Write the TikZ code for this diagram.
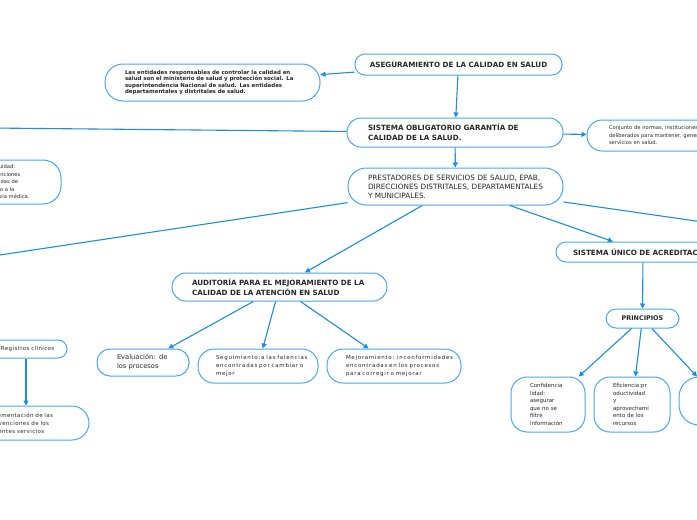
\documentclass[tikz,border=0pt]{standalone}
\usepackage{fontspec}
\setmainfont{DejaVu Sans}
\newfontfamily\spacedA[LetterSpace=13]{DejaVu Sans}
\newfontfamily\spacedB[LetterSpace=7]{DejaVu Sans}
\usetikzlibrary{arrows.meta}
\definecolor{bord}{RGB}{72,168,236}
\definecolor{arr}{RGB}{28,142,220}
\definecolor{txt}{RGB}{40,40,40}
\newcommand{\lb}[1]{\mbox{#1}}
\tikzset{
  box/.style={draw=bord, line width=1pt, fill=white, rounded corners=#1, inner sep=0pt, align=left, text=txt},
  box/.default=10pt,
  conn/.style={draw=arr, line width=1.1pt, -{Triangle[length=5pt,width=5pt]}},
  bigb/.style={font=\fontsize{7.2}{10}\selectfont\bfseries},
  midb/.style={font=\fontsize{6.4}{8}\selectfont\bfseries},
  bigr/.style={font=\fontsize{7.3}{9}\selectfont},
  evr/.style={font=\fontsize{6.7}{9}\selectfont},
  smr/.style={font=\fontsize{5.2}{7.5}\selectfont},
  sms/.style={font=\spacedA\fontsize{5.5}{8}\selectfont},
  smt/.style={font=\spacedB\fontsize{5.5}{8}\selectfont},
  smc/.style={font=\fontsize{5.5}{7.6}\selectfont},
  tinyb/.style={font=\fontsize{5.45}{6.5}\selectfont\bfseries},
}
\begin{document}
\begin{tikzpicture}[x=1pt,y=-1pt]
\useasboundingbox (0,0) rectangle (697,520);
\clip (0,0) rectangle (697,520);
\fill[white] (0,0) rectangle (697,520);

\node[box, bigb, align=center, minimum width=207pt, minimum height=21pt] (aseg) at (458.5,64.5) {ASEGURAMIENTO DE LA CALIDAD EN SALUD};
\node[box=18pt, tinyb, minimum width=215pt, minimum height=37pt, text width=175pt] (ent) at (212.5,82.5)
  {\lb{Las entidades responsables de controlar la calidad en}\\\lb{salud son el ministerio de salud y protección social. La}\\\lb{superintendencia Nacional de salud. Las entidades}\\\lb{departamentales y distritales de salud.}};
\node[box=14pt, bigb, minimum width=216pt, minimum height=29pt, text width=174pt] (sog) at (455,132.5)
  {\lb{SISTEMA OBLIGATORIO GARANTÍA DE}\\\lb{CALIDAD DE LA SALUD.}};
\node[box=15pt, smr, minimum width=143pt, minimum height=31pt, text width=99pt] (conj) at (658.5,135.5)
  {\lb{Conjunto de normas, instituciones y procesos}\\\lb{deliberados para mantener, generar y mejorar}\\\lb{servicios en salud.}};
\node[box=18pt, smr, minimum width=101pt, minimum height=44pt, text width=57pt] (cont) at (10.5,182)
  {\lb{Continuidad:}\\\lb{intervenciones}\\\lb{requeridas de}\\\lb{acuerdo a la}\\\lb{evidencia médica.}};
\node[box=18pt, bigr, minimum width=215pt, minimum height=37pt, text width=175pt] (pres) at (455.5,186.5)
  {\lb{PRESTADORES DE SERVICIOS DE SALUD, EPAB,}\\\lb{DIRECCIONES DISTRITALES, DEPARTAMENTALES}\\\lb{Y MUNICIPALES.}};
\node[box, bigb, minimum width=174pt, minimum height=20pt, text width=140pt] (suni) at (643,252)
  {\lb{SISTEMA ÚNICO DE ACREDITACIÓN}};
\node[box, midb, align=center, minimum width=73pt, minimum height=19pt] (prin) at (642.5,318.5) {PRINCIPIOS};
\node[box=16pt, smc, minimum width=74pt, minimum height=55pt, text width=36pt] (conf) at (548,404.5)
  {\lb{Confidencia}\\\lb{lidad:}\\\lb{asegurar}\\\lb{que no se}\\\lb{filtre}\\\lb{información}};
\node[box=16pt, smc, minimum width=76pt, minimum height=55pt, text width=38pt] (efic) at (632,404.5)
  {\lb{Eficiencia:pr}\\\lb{oductividad}\\\lb{y}\\\lb{aprovechami}\\\lb{ento de los}\\\lb{recursos}};
\node[box=20pt, minimum width=82pt, minimum height=48pt] (third) at (720,401) {};
\node[box=14pt, bigb, minimum width=215pt, minimum height=28pt, text width=175pt] (aud) at (279.5,287)
  {\lb{AUDITORÍA PARA EL MEJORAMIENTO DE LA}\\\lb{CALIDAD DE LA ATENCIÓN EN SALUD}};
\node[box=13pt, evr, minimum width=92pt, minimum height=27pt, text width=52pt] (eval) at (143,362.5)
  {\lb{Evaluación: de}\\\lb{los procesos}};
\node[box=16pt, sms, minimum width=120pt, minimum height=34pt, text width=84pt] (seg) at (258,366)
  {\lb{Seguimiento:a las falencias}\\\lb{encontradas por cambiar o}\\\lb{mejor}};
\node[box=16pt, sms, minimum width=134pt, minimum height=34pt, text width=96pt] (mej) at (394,366)
  {\lb{Mejoramiento: inconformidades}\\\lb{encontradas en los procesos}\\\lb{para corregir o mejorar}};
\node[box=9pt, smt, minimum width=82pt, minimum height=18pt, text width=50pt] (reg) at (26,349)
  {\lb{Registros clínicos}};
\node[box=17pt, smt, minimum width=169pt, minimum height=34pt, text width=41pt] (doc) at (4.5,423)
  {\lb{Implementación de las}\\\lb{intervenciones de los}\\\lb{diferentes servicios}};

\coordinate (offA) at (-10,128);
\coordinate (offB) at (-10,256.5);
\coordinate (offC) at (710,223);

\draw[conn] (aseg) -- (ent);
\draw[conn] (aseg) -- (sog);
\draw[conn] (sog) -- (conj);
\draw[conn] (sog) -- (offA);
\draw[conn] (sog) -- (pres);
\draw[conn] (pres) -- (offB);
\draw[conn] (pres) -- (offC);
\draw[conn] (pres) -- (aud);
\draw[conn] (pres) -- (suni);
\draw[conn] (suni) -- (prin);
\draw[conn] (prin) -- (conf);
\draw[conn] (prin) -- (efic);
\draw[conn] (prin) -- (third);
\draw[conn] (aud) -- (eval);
\draw[conn] (aud) -- (seg);
\draw[conn] (aud) -- (mej);
\draw[conn] (reg) -- (reg |- doc.north);
\end{tikzpicture}
\end{document}
